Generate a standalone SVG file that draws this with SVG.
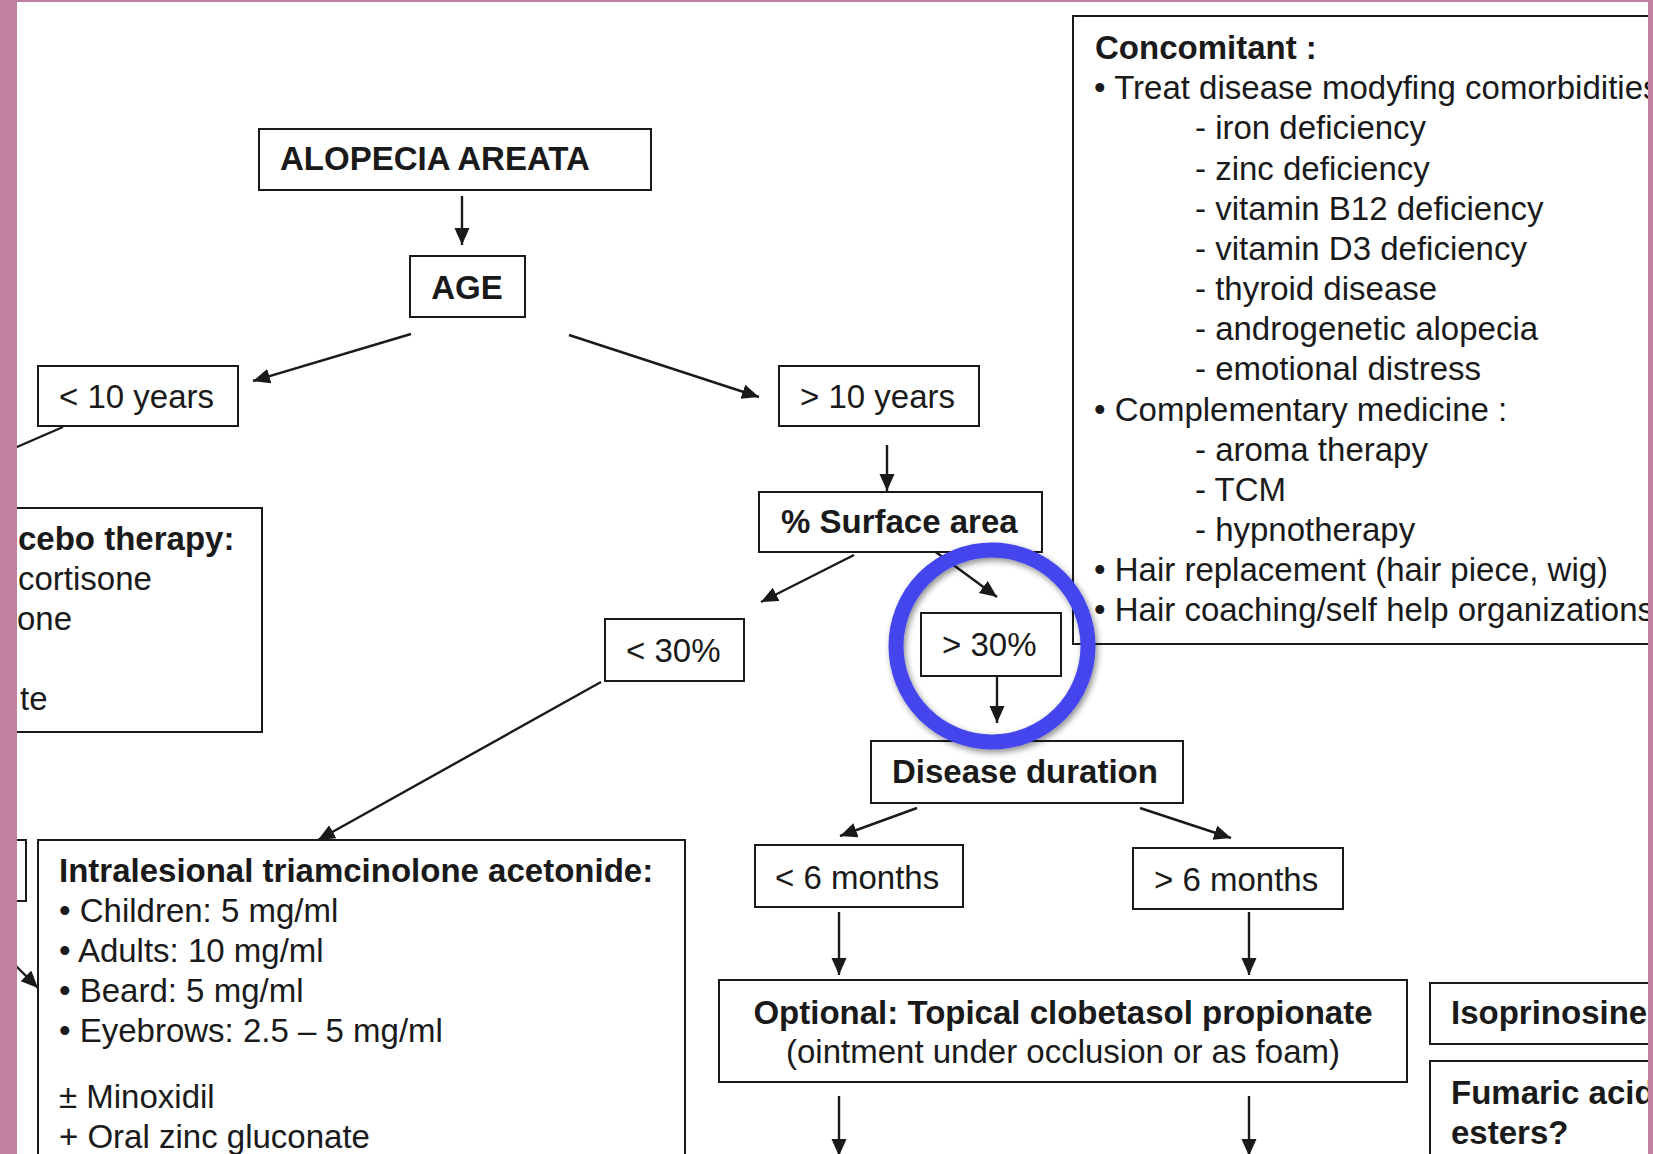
<svg xmlns="http://www.w3.org/2000/svg" width="1653" height="1154" viewBox="0 0 1653 1154">
<defs>
<style>
.box{fill:#fff;stroke:#1a1a1a;stroke-width:2}
.t{font-family:"Liberation Sans",Arial,sans-serif;font-size:33px;fill:#1a1a1a}
.b{font-weight:bold}
.c{text-anchor:middle}
.ln{stroke:#1a1a1a;stroke-width:2.4;fill:none}
.ar{marker-end:url(#ah)}
</style>
<marker id="ah" markerUnits="userSpaceOnUse" markerWidth="20" markerHeight="18" refX="17" refY="7.5" orient="auto">
<path d="M0,0 L17,7.5 L0,15 z" fill="#1a1a1a"/>
</marker>
<filter id="sh" x="-20%" y="-20%" width="140%" height="140%">
<feDropShadow dx="2" dy="3" stdDeviation="3" flood-color="#000" flood-opacity="0.45"/>
</filter>
</defs>
<rect width="1653" height="1154" fill="#fff"/>

<g id="connectors">
<line class="ln ar" x1="462" y1="196" x2="462" y2="245"/>
<line class="ln ar" x1="411" y1="334" x2="253" y2="381"/>
<line class="ln ar" x1="569" y1="335" x2="759" y2="397"/>
<line class="ln" x1="63" y1="427" x2="10" y2="450"/>
<line class="ln ar" x1="887" y1="445" x2="887" y2="491"/>
<line class="ln ar" x1="854" y1="555" x2="761" y2="602"/>
<line class="ln ar" x1="933" y1="550" x2="997" y2="597"/>
<line class="ln ar" x1="997" y1="677" x2="997" y2="723"/>
<line class="ln ar" x1="601" y1="682" x2="318" y2="840"/>
<line class="ln ar" x1="917" y1="808" x2="840" y2="836"/>
<line class="ln ar" x1="1140" y1="808" x2="1231" y2="838"/>
<line class="ln ar" x1="839" y1="912" x2="839" y2="975"/>
<line class="ln ar" x1="1249" y1="912" x2="1249" y2="975"/>
<line class="ln ar" x1="839" y1="1096" x2="839" y2="1156"/>
<line class="ln ar" x1="1249" y1="1096" x2="1249" y2="1156"/>
<line class="ln ar" x1="10" y1="960" x2="38" y2="988"/>
</g>

<g id="alopecia">
<rect class="box" x="259" y="129" width="392" height="61"/>
<text class="t b" x="280" y="170">ALOPECIA AREATA</text>
</g>
<g id="age">
<rect class="box" x="410" y="256" width="115" height="61"/>
<text class="t b c" x="467" y="299">AGE</text>
</g>
<g id="lt10">
<rect class="box" x="38" y="366" width="200" height="60"/>
<text class="t" x="59" y="408">&lt; 10 years</text>
</g>
<g id="gt10">
<rect class="box" x="779" y="366" width="200" height="60"/>
<text class="t" x="800" y="408">&gt; 10 years</text>
</g>
<g id="placebo">
<rect class="box" x="-10" y="508" width="272" height="224"/>
<text class="t b" x="18" y="550">cebo therapy:</text>
<text class="t" x="18" y="590">cortisone</text>
<text class="t" x="17" y="630">one</text>
<text class="t" x="20" y="710">te</text>
</g>
<g id="surface">
<rect class="box" x="759" y="492" width="283" height="60"/>
<text class="t b" x="781" y="533">% Surface area</text>
</g>
<g id="lt30">
<rect class="box" x="605" y="619" width="139" height="62"/>
<text class="t" x="626" y="662">&lt; 30%</text>
</g>
<g id="gt30">
<rect class="box" x="921" y="613" width="140" height="63"/>
<text class="t" x="942" y="656">&gt; 30%</text>
</g>
<g id="concomitant">
<rect class="box" x="1073" y="16" width="620" height="628"/>
<text class="t b" x="1095" y="59">Concomitant :</text>
<text class="t" x="1094" y="99">• Treat disease modyfing comorbidities</text>
<text class="t" x="1195" y="139">- iron deficiency</text>
<text class="t" x="1195" y="180">- zinc deficiency</text>
<text class="t" x="1195" y="220">- vitamin B12 deficiency</text>
<text class="t" x="1195" y="260">- vitamin D3 deficiency</text>
<text class="t" x="1195" y="300">- thyroid disease</text>
<text class="t" x="1195" y="340">- androgenetic alopecia</text>
<text class="t" x="1195" y="380">- emotional distress</text>
<text class="t" x="1094" y="421">• Complementary medicine :</text>
<text class="t" x="1195" y="461">- aroma therapy</text>
<text class="t" x="1195" y="501">- TCM</text>
<text class="t" x="1195" y="541">- hypnotherapy</text>
<text class="t" x="1094" y="581">• Hair replacement (hair piece, wig)</text>
<text class="t" x="1094" y="621">• Hair coaching/self help organizations</text>
</g>
<g id="duration">
<rect class="box" x="871" y="741" width="312" height="62"/>
<text class="t b" x="892" y="783">Disease duration</text>
</g>
<g id="lt6">
<rect class="box" x="755" y="845" width="208" height="62"/>
<text class="t" x="775" y="889">&lt; 6 months</text>
</g>
<g id="gt6">
<rect class="box" x="1133" y="848" width="210" height="61"/>
<text class="t" x="1154" y="891">&gt; 6 months</text>
</g>
<g id="leftsmall">
<rect class="box" x="-10" y="840" width="36" height="61"/>
</g>
<g id="intralesional">
<rect class="box" x="38" y="840" width="647" height="340"/>
<text class="t b" x="59" y="882">Intralesional triamcinolone acetonide:</text>
<text class="t" x="59" y="922">• Children: 5 mg/ml</text>
<text class="t" x="59" y="962">• Adults: 10 mg/ml</text>
<text class="t" x="59" y="1002">• Beard: 5 mg/ml</text>
<text class="t" x="59" y="1042">• Eyebrows: 2.5 – 5 mg/ml</text>
<text class="t" x="59" y="1108">± Minoxidil</text>
<text class="t" x="59" y="1148">+ Oral zinc gluconate</text>
</g>
<g id="optional">
<rect class="box" x="719" y="980" width="688" height="102"/>
<text class="t b c" x="1063" y="1024">Optional: Topical clobetasol propionate</text>
<text class="t c" x="1063" y="1063">(ointment under occlusion or as foam)</text>
</g>
<g id="isoprinosine">
<rect class="box" x="1430" y="983" width="260" height="61"/>
<text class="t b" x="1451" y="1024">Isoprinosine</text>
</g>
<g id="fumaric">
<rect class="box" x="1430" y="1061" width="260" height="120"/>
<text class="t b" x="1451" y="1104">Fumaric acid</text>
<text class="t b" x="1451" y="1144">esters?</text>
</g>

<g id="highlight">
<circle cx="992" cy="646" r="96" fill="none" stroke="#4444EE" stroke-width="15" filter="url(#sh)"/>
</g>

<g id="frame" fill="#C280A0">
<rect x="0" y="0" width="17" height="1154"/>
<rect x="0" y="0" width="1653" height="2"/>
<rect x="1648" y="0" width="5" height="1154"/>
</g>
</svg>
